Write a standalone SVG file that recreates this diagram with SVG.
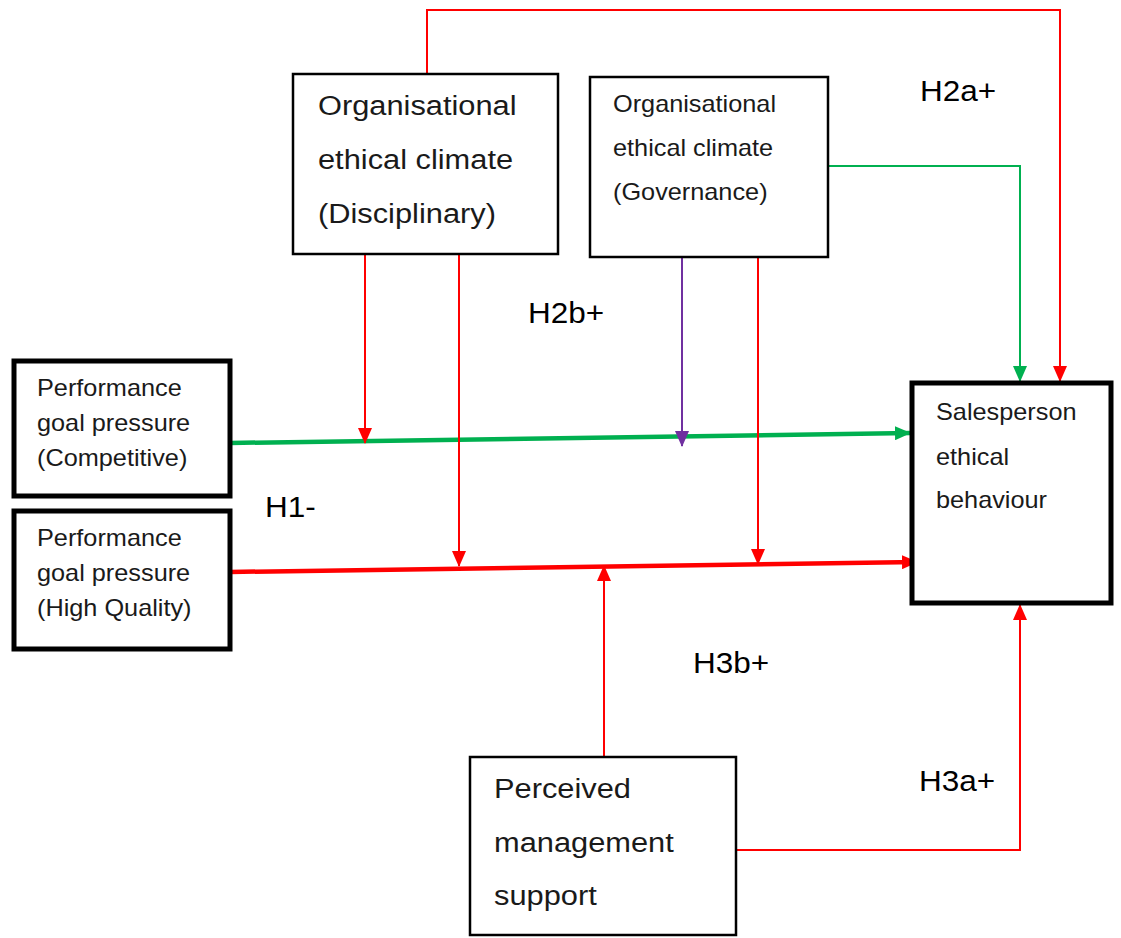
<svg xmlns="http://www.w3.org/2000/svg" width="1121" height="938" viewBox="0 0 1121 938">
<style>
.box{fill:#fff;stroke:#000;stroke-width:2.5}
.bold{fill:#fff;stroke:#000;stroke-width:5}
text{font-family:"Liberation Sans",Arial,sans-serif;fill:#1a1a1a}
.t28{font-size:28px}
.t23{font-size:23px}
.lab{font-size:30px;fill:#000}
.red{stroke:#ff0000;stroke-width:2;fill:none}
.redT{stroke:#ff0000;stroke-width:4.5;fill:none}
.grn{stroke:#00b050;stroke-width:2;fill:none}
.grnT{stroke:#00b050;stroke-width:4.5;fill:none}
.pur{stroke:#7030a0;stroke-width:2;fill:none}
</style>
<defs>
<marker id="aR" markerUnits="userSpaceOnUse" markerWidth="16" markerHeight="14" refX="15" refY="7" orient="auto"><path d="M0,0 L16,7 L0,14 Z" fill="#ff0000"/></marker>
<marker id="aG" markerUnits="userSpaceOnUse" markerWidth="16" markerHeight="14" refX="15" refY="7" orient="auto"><path d="M0,0 L16,7 L0,14 Z" fill="#00b050"/></marker>
<marker id="aP" markerUnits="userSpaceOnUse" markerWidth="16" markerHeight="14" refX="15" refY="7" orient="auto"><path d="M0,0 L16,7 L0,14 Z" fill="#7030a0"/></marker>
</defs>
<rect width="1121" height="938" fill="#fff"/>
<g id="connectors">
<path class="red" d="M427,74 V10 H1060 V381" marker-end="url(#aR)"/>
<path class="grn" d="M828,166 H1020 V381" marker-end="url(#aG)"/>
<path class="grnT" d="M230,443 L910,433" marker-end="url(#aG)"/>
<path class="redT" d="M230,572 L917,562" marker-end="url(#aR)"/>
<path class="red" d="M365,254 V443" marker-end="url(#aR)"/>
<path class="red" d="M459,254 V566" marker-end="url(#aR)"/>
<path class="pur" d="M682,257 V446" marker-end="url(#aP)"/>
<path class="red" d="M758,257 V564" marker-end="url(#aR)"/>
<path class="red" d="M604,757 V566" marker-end="url(#aR)"/>
<path class="red" d="M736,850 H1020 V605" marker-end="url(#aR)"/>
</g>
<g id="disciplinary">
<rect class="box" x="293" y="74" width="265" height="180"/>
<text class="t28" transform="translate(318,0) scale(1.1,1)" y="115">Organisational</text>
<text class="t28" transform="translate(318,0) scale(1.1,1)" y="169">ethical climate</text>
<text class="t28" transform="translate(318,0) scale(1.1,1)" y="223">(Disciplinary)</text>
</g>
<g id="governance">
<rect class="box" x="590" y="77" width="238" height="180"/>
<text class="t23" transform="translate(613,0) scale(1.1,1)" y="112">Organisational</text>
<text class="t23" transform="translate(613,0) scale(1.1,1)" y="156">ethical climate</text>
<text class="t23" transform="translate(613,0) scale(1.1,1)" y="200">(Governance)</text>
</g>
<g id="competitive">
<rect class="bold" x="14" y="361" width="216" height="135"/>
<text class="t23" transform="translate(37,0) scale(1.1,1)" y="396">Performance</text>
<text class="t23" transform="translate(37,0) scale(1.1,1)" y="431">goal pressure</text>
<text class="t23" transform="translate(37,0) scale(1.1,1)" y="466">(Competitive)</text>
</g>
<g id="highquality">
<rect class="bold" x="14" y="511" width="216" height="138"/>
<text class="t23" transform="translate(37,0) scale(1.1,1)" y="546">Performance</text>
<text class="t23" transform="translate(37,0) scale(1.1,1)" y="581">goal pressure</text>
<text class="t23" transform="translate(37,0) scale(1.1,1)" y="616">(High Quality)</text>
</g>
<g id="salesperson">
<rect class="bold" x="912" y="383" width="199" height="220"/>
<text class="t23" transform="translate(936,0) scale(1.1,1)" y="420">Salesperson</text>
<text class="t23" transform="translate(936,0) scale(1.1,1)" y="465">ethical</text>
<text class="t23" transform="translate(936,0) scale(1.1,1)" y="508">behaviour</text>
</g>
<g id="perceived">
<rect class="box" x="470" y="757" width="266" height="178"/>
<text class="t28" transform="translate(494,0) scale(1.1,1)" y="798">Perceived</text>
<text class="t28" transform="translate(494,0) scale(1.1,1)" y="852">management</text>
<text class="t28" transform="translate(494,0) scale(1.1,1)" y="905">support</text>
</g>
<g id="labels">
<text class="lab" transform="translate(920,0) scale(1.05,1)" y="101">H2a+</text>
<text class="lab" transform="translate(528,0) scale(1.05,1)" y="323">H2b+</text>
<text class="lab" transform="translate(265,0) scale(1.05,1)" y="517">H1-</text>
<text class="lab" transform="translate(693,0) scale(1.05,1)" y="673">H3b+</text>
<text class="lab" transform="translate(919,0) scale(1.05,1)" y="791">H3a+</text>
</g>
</svg>
